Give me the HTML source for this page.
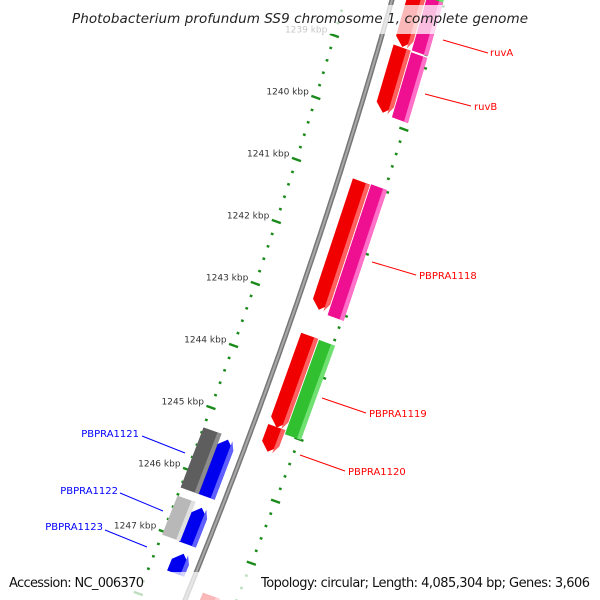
<!DOCTYPE html>
<html><head><meta charset="utf-8"><style>
html,body{margin:0;padding:0;background:#fff;width:600px;height:600px;overflow:hidden;}
svg{display:block;font-family:"DejaVu Sans","Liberation Sans",sans-serif;overflow:hidden;}
</style></head><body>
<svg id="map" width="600" height="600" viewBox="0 0 600 600">
<defs><clipPath id="frame"><rect x="0" y="0" width="600" height="600"/></clipPath></defs>
<g clip-path="url(#frame)">
<g id="ticks"></g>
<path id="backbone2" fill="none" stroke="#777" stroke-width="5"/>
<path id="backbone" fill="none" stroke="#a8a8a8" stroke-width="2"/>
<g id="genes"></g>
<g id="labels">
<line x1="443" y1="40" x2="488" y2="53" stroke="#ff0000" stroke-width="1"/>
<text x="490" y="56" fill="#ff0000" font-size="10">ruvA</text>
<line x1="425" y1="94" x2="471" y2="106" stroke="#ff0000" stroke-width="1"/>
<text x="474" y="110" fill="#ff0000" font-size="10">ruvB</text>
<line x1="372" y1="262" x2="416" y2="275" stroke="#ff0000" stroke-width="1"/>
<text x="419" y="279" fill="#ff0000" font-size="10">PBPRA1118</text>
<line x1="322" y1="398" x2="366" y2="413" stroke="#ff0000" stroke-width="1"/>
<text x="369" y="417" fill="#ff0000" font-size="10">PBPRA1119</text>
<line x1="300" y1="455" x2="345" y2="471" stroke="#ff0000" stroke-width="1"/>
<text x="348" y="475" fill="#ff0000" font-size="10">PBPRA1120</text>
<line x1="142" y1="436" x2="185" y2="453" stroke="#0000ff" stroke-width="1"/>
<text x="139" y="437" fill="#0000ff" font-size="10" text-anchor="end">PBPRA1121</text>
<line x1="120" y1="493" x2="163" y2="511" stroke="#0000ff" stroke-width="1"/>
<text x="118" y="494" fill="#0000ff" font-size="10" text-anchor="end">PBPRA1122</text>
<line x1="105" y1="530" x2="147" y2="547" stroke="#0000ff" stroke-width="1"/>
<text x="103" y="530" fill="#0000ff" font-size="10" text-anchor="end">PBPRA1123</text>
</g>
<rect x="0" y="5" width="600" height="29" fill="#fff" fill-opacity="0.72"/>
<text x="300" y="23" text-anchor="middle" font-size="13.5" font-style="italic" fill="#222" textLength="456">Photobacterium profundum SS9 chromosome 1, complete genome</text>
<rect x="0" y="572" width="600" height="28" fill="#fff" fill-opacity="0.72"/>
<text x="9" y="587" font-size="13" fill="#111" textLength="135">Accession: NC_006370</text>
<text x="590" y="587" font-size="13" fill="#111" text-anchor="end" textLength="329">Topology: circular; Length: 4,085,304 bp; Genes: 3,606</text>
</g>
</svg>
<script>
const majorKbp = [1237,1238,1239,1240,1241,1242,1243,1244,1245,1246,1247];
const geneStart = [1237.89,1238.82,1240.98,1243.47,1244.94,1247.66,1237.47,1237.95,1238.84,1240.97,1243.48,1245.37,1246.47,1247.21,1245.32,1246.42];
const geneEnd   = [1238.81,1239.87,1243.05,1244.95,1245.34,1248.13,1238.03,1238.81,1239.89,1243.08,1245.00,1246.29,1247.06,1247.53,1246.29,1247.05];
const geneLane  = ["ri","ri","ri","ri","ri","ri","ro","ro","ro","ro","ro","li","li","li","lo","lo"];
const geneColor = ["red","red","red","red","red","red","green","pink","pink","pink","green","blue","blue","blue","dgray","lgray"];

const NS="http://www.w3.org/2000/svg";
function bk(y){return 392-0.2817*y-0.0001056*y*y;}
function yb(k){return 51+62*(k-1239);}
function pt(k,d){const y=yb(k);return [bk(y)+d, y+0.36*d];}
function el(tag,attrs,parent){const e=document.createElementNS(NS,tag);for(const a in attrs)e.setAttribute(a,attrs[a]);parent.appendChild(e);return e;}
let dpath="";for(let y=-20;y<=620;y+=5){dpath+=(y===-20?"M":"L")+bk(y).toFixed(1)+","+y+" ";}
document.getElementById('backbone').setAttribute('d',dpath);
document.getElementById('backbone2').setAttribute('d',dpath);
const tg=document.getElementById('ticks');
for(let k=1237;k<=1248.4;k+=0.2){
  const kk=Math.round(k*10)/10; const major=Math.abs(kk-Math.round(kk))<0.01;
  [-43,45].forEach(d=>{
    const h=major?4.5:1.3;
    const a=pt(kk,d-h), b=pt(kk,d+h);
    const ln=el('line',{x1:a[0],y1:a[1],x2:b[0],y2:b[1],stroke:'#1a8a1a','stroke-width':2.4},tg);
    
    
  });
}
majorKbp.forEach(k=>{
  const p=pt(k,-43);
  const t=el('text',{x:p[0]-7,y:p[1]-3,'text-anchor':'end','font-size':'9',fill:'#333'},tg);
  t.textContent=k+" kbp";
  
  
});
const laneD={ri:[13,30],ro:[31,47],li:[-26,-9],lo:[-43,-25]};
const cols={red:["#f00000","#ff6060"],pink:["#ee1090","#ff70c8"],green:["#30c030","#70e070"],blue:["#0000ee","#6060ff"],dgray:["#5e5e5e","#8c8c8c"],lgray:["#b8b8b8","#e0e0e0"]};
const gg=document.getElementById('genes');
function poly(pts){return pts.map(p=>p[0].toFixed(1)+","+p[1].toFixed(1)).join(" ");}
for(let i=0;i<geneStart.length;i++){
  const lane=geneLane[i];const [d1,d2]=laneD[lane];const k1=geneStart[i],k2=geneEnd[i];
  const a=0.13, m=(d1+d2)/2;
  const hasArrow=(geneColor[i]==="red"||geneColor[i]==="blue");
  function shape(e1,e2){
    const mm=Math.min(Math.max(m,e1),e2);
    if(hasArrow && lane==="ri") return [pt(k1,e1),pt(k1,e2),pt(k2-a,e2),pt(k2,mm),pt(k2-a,e1)];
    if(hasArrow && lane==="li") return [pt(k1+a,e1),pt(k1,mm),pt(k1+a,e2),pt(k2,e2),pt(k2,e1)];
    return [pt(k1,e1),pt(k1,e2),pt(k2,e2),pt(k2,e1)];
  }
  const g=el('g',{},gg);
  
  
  el('polygon',{points:poly(shape(d1,d2)),fill:cols[geneColor[i]][0]},g);
  el('polygon',{points:poly(shape(d2-4,d2)),fill:cols[geneColor[i]][1]},g);
}
</script>
</body></html>
